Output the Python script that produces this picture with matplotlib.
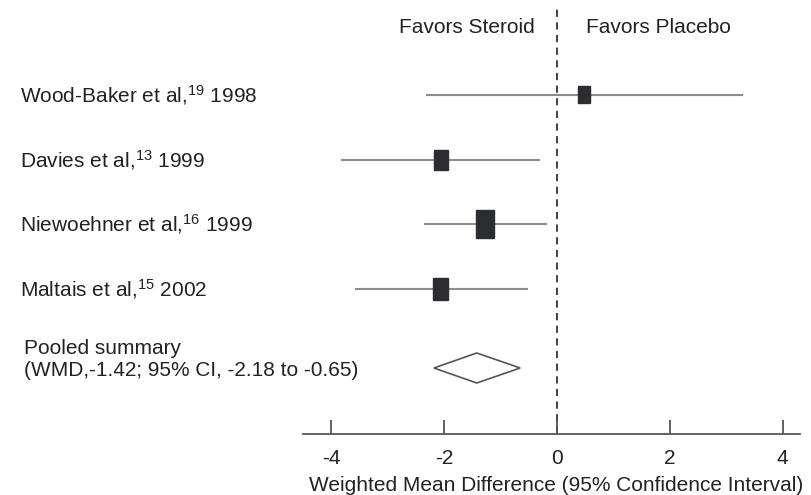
import matplotlib.pyplot as plt
from matplotlib.patches import Rectangle, Polygon
from matplotlib.transforms import blended_transform_factory

plt.rcParams['font.family'] = ['Liberation Sans', 'DejaVu Sans']
plt.rcParams['mathtext.fontset'] = 'custom'
plt.rcParams['mathtext.rm'] = 'Liberation Sans'
plt.rcParams['mathtext.it'] = 'Liberation Sans:italic'

# study data
studies = ['Wood-Baker et al,$^{19}$ 1998', 'Davies et al,$^{13}$ 1999',
           'Niewoehner et al,$^{16}$ 1999', 'Maltais et al,$^{15}$ 2002']
means = [0.48, -2.06, -1.28, -2.06]
lows = [-2.3, -3.8, -2.34, -3.56]
highs = [3.28, -0.32, -0.2, -0.53]
# box size (pixels, w x h) ~ study weight
box_w = [12, 14, 18, 15]
box_h = [17, 20, 28, 22]

pooled_label = 'Pooled summary\n(WMD,-1.42; 95% CI, -2.18 to -0.65)'
pooled_mean = -1.42
pooled_low = -2.18
pooled_high = -0.65

ticks = [-4, -2, 0, 2, 4]
xlabel = 'Weighted Mean Difference (95% Confidence Interval)'

fig = plt.figure(figsize=(8.12, 4.95), dpi=100)
ax = fig.add_axes([303/812, 61/495, (800-303)/812, (490-61)/495])
ax.set_xlim(-4.5, 4.31)
ax.set_ylim(5.24, -1.39)
lbl_tr = blended_transform_factory(fig.transFigure, ax.transData)

px_x = 56.4   # pixels per x unit
px_y = 64.7   # pixels per row
fs = 15
tc = '#222222'

for i in range(len(studies)):
    ax.plot([lows[i], highs[i]], [i, i], color='#8c8c8c', lw=1.5, zorder=2)
    w = box_w[i] / px_x
    h = box_h[i] / px_y
    ax.add_patch(Rectangle((means[i] - w/2, i - h/2), w, h,
                           facecolor='#2b2d33', edgecolor='#2b2d33', zorder=3))
    ax.text(20/812, i, studies[i], transform=lbl_tr,
            ha='left', va='center', fontsize=fs, color=tc)

py = 4.22
dh = 15 / px_y
ax.add_patch(Polygon([[pooled_low, py], [pooled_mean, py - dh], [pooled_high, py],
                      [pooled_mean, py + dh]], closed=True, facecolor='white',
                     edgecolor='#555555', lw=1.2, zorder=3))
ax.text(24/812, py - 0.13, pooled_label, transform=lbl_tr,
        ha='left', va='center', fontsize=fs, color=tc, linespacing=1.2)

ax.axvline(0, color='#333333', lw=1.3, ls=(0, (4, 3)), zorder=1)
ax.text(-0.4, -1.04, 'Favors Steroid', ha='right', va='center', fontsize=fs, color=tc)
ax.text(0.52, -1.04, 'Favors Placebo', ha='left', va='center', fontsize=fs, color=tc)

for s in ['top', 'right', 'left']:
    ax.spines[s].set_visible(False)
ax.spines['bottom'].set_color('#555555')
ax.spines['bottom'].set_linewidth(1.3)
ax.set_yticks([])
ax.set_xticks(ticks)
ax.set_xticklabels([str(t) for t in ticks])
ax.tick_params(axis='x', direction='in', length=10, width=1.3, color='#555555',
               labelsize=fs, pad=11, labelcolor=tc)
ax.set_xlabel(xlabel, fontsize=fs, color=tc)
ax.xaxis.set_label_coords(0.51, -0.097)

fig.savefig('out.png', dpi=100)
